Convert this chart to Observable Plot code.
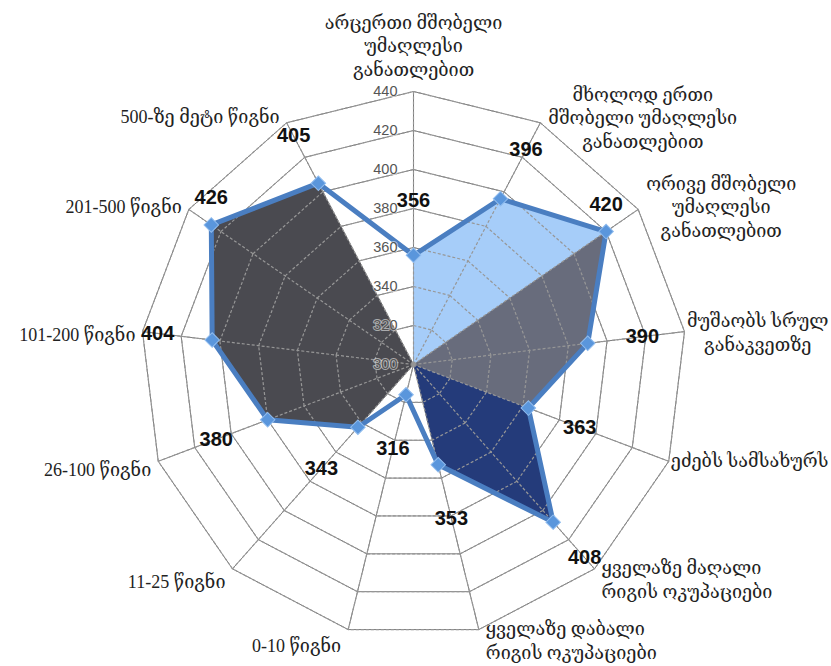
<!DOCTYPE html>
<html><head><meta charset="utf-8">
<script src="https://cdn.jsdelivr.net/npm/d3@7"></script>
<script src="https://cdn.jsdelivr.net/npm/@observablehq/plot@0.6"></script>
<style>html,body{margin:0;padding:0;background:#fff}svg{display:block}</style>
</head><body><div id="chart"></div>
<script>
const categories = [
  "არცერთი მშობელი\nუმაღლესი\nგანათლებით",
  "მხოლოდ ერთი\nმშობელი უმაღლესი\nგანათლებით",
  "ორივე მშობელი\nუმაღლესი\nგანათლებით",
  "მუშაობს სრულ\nგანაკვეთზე",
  "ეძებს სამსახურს",
  "ყველაზე მაღალი\nრიგის ოკუპაციები",
  "ყველაზე დაბალი\nრიგის ოკუპაციები",
  "0-10 წიგნი",
  "11-25 წიგნი",
  "26-100 წიგნი",
  "101-200 წიგნი",
  "201-500 წიგნი",
  "500-ზე მეტი წიგნი"
];
const scores = [356, 396, 420, 390, 363, 408, 353, 316, 343, 380, 404, 426, 405];
const ringTicks = [300, 320, 340, 360, 380, 400, 420, 440];
const parentEducationAxes = [0, 1, 2];
const employmentAxes = [2, 3, 4];
const occupationAxes = [4, 5, 6];
const booksAxes = [8, 9, 10, 11, 12];

const W = 831, H = 666, CX = 413, CY = 364, R = 273;
const N = categories.length;
const rScale = d3.scaleLinear().domain([ringTicks[0], ringTicks[ringTicks.length - 1]]).range([0, 1]);
const ang = i => i * 2 * Math.PI / N;
const pt = (i, v) => ({i, v, x: rScale(v) * Math.sin(ang(i)), y: rScale(v) * Math.cos(ang(i))});
const points = scores.map((v, i) => pt(i, v));
const center = {x: 0, y: 0};
const poly = axes => [center, ...axes.map(i => points[i]), center];

// ring edges (vertex i -> vertex i+1) for every ring above the centre
const ringEdges = ringTicks.slice(1).flatMap(t => d3.range(N).map(i => {
  const a = pt(i, t), b = pt((i + 1) % N, t);
  return {x1: a.x, y1: a.y, x2: b.x, y2: b.y};
}));
const spokes = d3.range(N).map(i => {
  const b = pt(i, ringTicks[ringTicks.length - 1]);
  return {x1: 0, y1: 0, x2: b.x, y2: b.y};
});
const gridSegments = ringEdges.concat(spokes);

// value labels: along each axis beyond the point; points close to the outer ring get the label just above
const valueLabels = points.map(p => {
  const rp = rScale(p.v) * R;
  if (rp > 230) return {v: p.v, x: p.x, y: p.y + 27 / R};
  const d = Math.min(55, Math.max(40, 258 - rp));
  const rr = (rp + d) / R;
  return {v: p.v, x: rr * Math.sin(ang(p.i)), y: rr * Math.cos(ang(p.i))};
});

// category label placement rules
const catFamily = "'Liberation Serif', 'DejaVu Serif', 'DejaVu Sans'";
const catSize = 18;
const ctx = document.createElement("canvas").getContext("2d");
ctx.font = `${catSize}px ${catFamily}`;
const widest = s => d3.max(s.split("\n"), l => ctx.measureText(l).width);
const toUnit = (px, py) => ({x: (px - CX) / R, y: (CY - py) / R});
const catLabels = categories.map((text, i) => {
  const a = ang(i), s = Math.sin(a), c = Math.cos(a);
  const vx = CX + R * s, vy = CY - R * c;
  const w = widest(text);
  let group, p;
  if (i === 0) { group = "top"; p = toUnit(vx, vy - 16); }
  else if (s > 0 && c > 0) { group = "ur"; p = toUnit(Math.min(vx + 8 + w / 2, W - 3 - w / 2), vy + 1 - 8 * c); }
  else if (s > 0) { group = "lr"; p = toUnit(Math.min(vx + 7, W - 3 - w), vy - 11); }
  else { group = "left"; p = toUnit(vx - 7, vy + 3 - 12 * c); }
  return {text, group, ...p};
});

const catStyle = {text: "text", fontSize: catSize, fontFamily: catFamily, fill: "#222", lineHeight: 1.3};
const gridColor = "#7b7b7b";
const fillStyle = {x: "x", y: "y", stroke: "none", curve: "linear-closed"};

const chart = Plot.plot({
  width: W, height: H,
  margin: 0,
  x: {domain: [-CX / R, (W - CX) / R], range: [0, W], axis: null},
  y: {domain: [-(H - CY) / R, CY / R], range: [H, 0], axis: null},
  marks: [
    // solid grid, hidden by the opaque fills drawn over it
    Plot.link(gridSegments, {x1: "x1", y1: "y1", x2: "x2", y2: "y2", stroke: gridColor, strokeWidth: 1}),
    Plot.line(poly(parentEducationAxes), {...fillStyle, fill: "#A6CDF9"}),
    Plot.line(poly(employmentAxes), {...fillStyle, fill: "#686C7C"}),
    Plot.line(poly(occupationAxes), {...fillStyle, fill: "#243B7A"}),
    Plot.line(poly(booksAxes), {...fillStyle, fill: "#4A4A50"}),
    // lighter dashed grid over the fills (clipped to them below)
    Plot.link(gridSegments, {x1: "x1", y1: "y1", x2: "x2", y2: "y2", stroke: "#979797", strokeWidth: 1.2, strokeDasharray: "3,2", ariaLabel: "grid-in"}),
    Plot.line(points, {x: "x", y: "y", curve: "linear-closed", stroke: "#4A7EC1", strokeWidth: 5, strokeLinejoin: "round"}),
    Plot.dot(points, {x: "x", y: "y", symbol: "square", rotate: 45, r: 5.8, fill: "#5A96DC", stroke: "#90BCEE", strokeWidth: 1}),
    Plot.text(ringTicks, {x: () => 0, y: d => rScale(d), text: d => String(d), dx: -16, textAnchor: "end", fontSize: 14.5, fontFamily: "'Liberation Sans', Arial", fill: "#555", stroke: "rgba(255,255,255,0.55)", strokeWidth: 2, paintOrder: "stroke"}),
    Plot.text(valueLabels, {x: "x", y: "y", text: "v", fontSize: 20, fontWeight: "bold", fontFamily: "'Liberation Sans', Arial", fill: "#111"}),
    Plot.text(catLabels.filter(d => d.group === "top"), {...catStyle, x: "x", y: "y", textAnchor: "middle", lineAnchor: "bottom"}),
    Plot.text(catLabels.filter(d => d.group === "ur"), {...catStyle, x: "x", y: "y", textAnchor: "middle", lineAnchor: "middle"}),
    Plot.text(catLabels.filter(d => d.group === "lr"), {...catStyle, x: "x", y: "y", textAnchor: "start", lineAnchor: "top"}),
    Plot.text(catLabels.filter(d => d.group === "left"), {...catStyle, x: "x", y: "y", textAnchor: "end", lineAnchor: "middle"})
  ]
});

// clip the dashed grid layer to the filled areas
const xs = chart.scale("x"), ys = chart.scale("y");
const polyPath = axes => "M" + poly(axes).map(p => `${xs.apply(p.x)},${ys.apply(p.y)}`).join("L") + "Z";
const svg = d3.select(chart);
const clip = svg.insert("defs", ":first-child").append("clipPath").attr("id", "fill-clip");
[parentEducationAxes, employmentAxes, occupationAxes, booksAxes].forEach(axes => clip.append("path").attr("d", polyPath(axes)));
svg.selectAll('g[aria-label="grid-in"]').attr("clip-path", "url(#fill-clip)");

document.getElementById("chart").appendChild(chart);
</script>
</body></html>
